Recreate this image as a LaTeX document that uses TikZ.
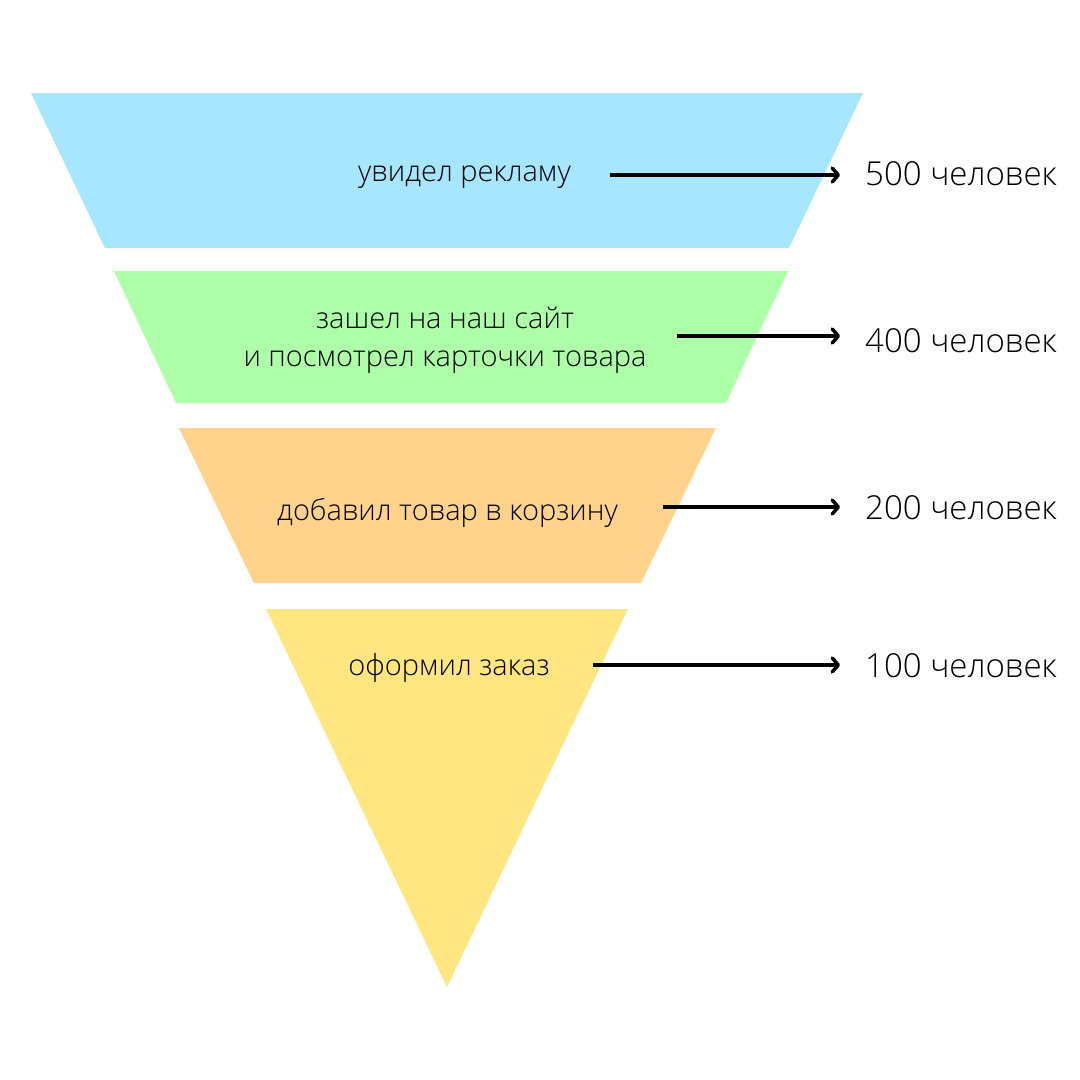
\documentclass[tikz,border=0pt]{standalone}
\usepackage{fontspec}
\setmainfont{Open Sans}[UprightFont={* Light}]
\usetikzlibrary{arrows.meta}
\definecolor{seenblue}{HTML}{A6E7FF}
\definecolor{sitegreen}{HTML}{ADFFA8}
\definecolor{cartorange}{HTML}{FFD38B}
\definecolor{orderyellow}{HTML}{FFE681}
\tikzset{
  stage/.style={font=\fontsize{29}{38.5}\selectfont, align=center, inner sep=0pt, anchor=base},
  count/.style={font=\fontsize{33}{38}\selectfont, anchor=base west, inner sep=0pt},
  arrow/.style={line width=3.5pt, -{Straight Barb[length=6pt, width=14pt, line cap=round, line join=round]}, shorten >=25pt}
}
\begin{document}
\begin{tikzpicture}[x=1pt, y=-1pt]
    \useasboundingbox (0, 0) rectangle (1080, 1080);
    \fill[seenblue] (31, 93) -- (863, 93) -- (789, 248) -- (105, 248) -- cycle;
    \fill[sitegreen] (114, 271) -- (788, 271) -- (726, 403) -- (176, 403) -- cycle;
    \fill[cartorange] (179, 428) -- (716, 428) -- (641, 583) -- (254, 583) -- cycle;
    \fill[orderyellow] (266, 609) -- (628, 609) -- (447, 987) -- cycle;
    \node[stage] (s1) at (464.5, 181) {увидел рекламу};
    \node[stage, anchor=center] (s2) at (445, 340) {зашел на наш сайт\\и посмотрел карточки товара};
    \node[stage] (s3) at (447.5, 520) {добавил товар в корзину};
    \node[stage] (s4) at (449, 675) {оформил заказ};
    \node[count] (c1) at (865, 185) {500 человек};
    \node[count] (c2) at (865, 352) {400 человек};
    \node[count] (c3) at (865, 519) {200 человек};
    \node[count] (c4) at (865, 677) {100 человек};
    \coordinate (a1) at (610, 175);
    \coordinate (a2) at (677, 336);
    \coordinate (a3) at (663, 507);
    \coordinate (a4) at (593, 665);
    \draw[arrow] (a1) -- (c1.west |- a1);
    \draw[arrow] (a2) -- (c2.west |- a2);
    \draw[arrow] (a3) -- (c3.west |- a3);
    \draw[arrow] (a4) -- (c4.west |- a4);
\end{tikzpicture}
\end{document}
